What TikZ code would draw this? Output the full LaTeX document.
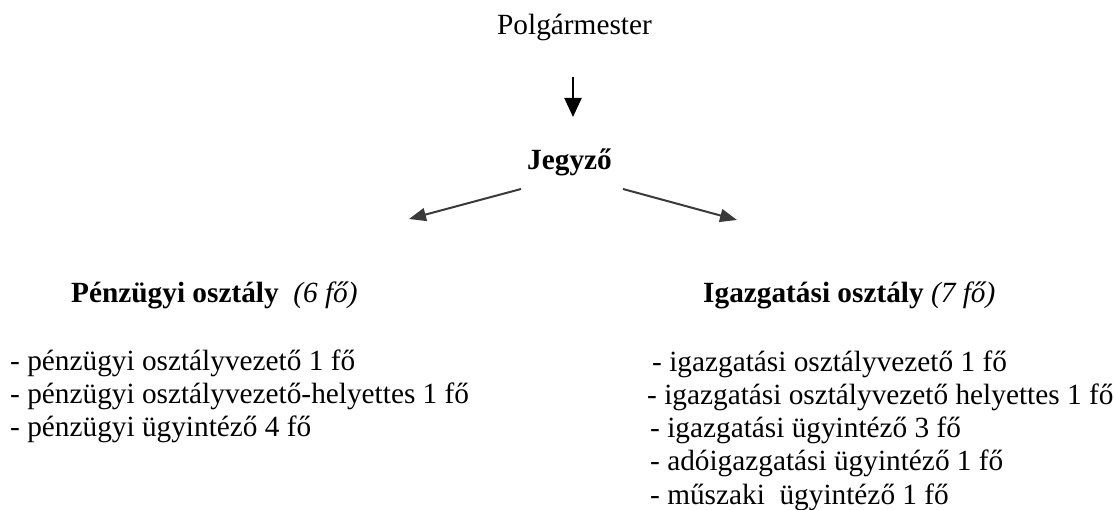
\documentclass[tikz,border=0pt]{standalone}
\usepackage{fontspec}
\setmainfont{Liberation Serif}
\usetikzlibrary{arrows.meta}
\definecolor{arrgray}{HTML}{3A3A3A}
\tikzset{
  txt/.style={inner sep=0pt, anchor=base west, font=\fontsize{29.3}{33}\selectfont},
  ctxt/.style={inner sep=0pt, anchor=base, font=\fontsize{29.3}{33}\selectfont},
  downarr/.style={line width=2pt, -{Triangle[length=19pt,width=17pt]}},
  sidearr/.style={line width=2pt, draw=arrgray, -{Triangle[length=17pt,width=13pt]}, fill=arrgray}
}
\begin{document}
\begin{tikzpicture}[x=1pt,y=-1pt]
\useasboundingbox (0,0) rectangle (1114,510);
% top
\node[ctxt] (pm) at (574.5,35) {Polgármester};
\node[ctxt] (j) at (569.5,170) {\textbf{Jegyző}};
\draw[downarr] ([xshift=-1.5pt,yshift=-42pt]pm.base) -- ([xshift=-1.5pt,yshift=-82pt]pm.base);
% headers
\node[txt] (pz) at (71,303) {\textbf{Pénzügyi osztály}\ \ \textit{(6 fő)}};
\node[txt] (ig) at (703,303) {\textbf{Igazgatási osztály} \textit{(7 fő)}};
% side arrows
\coordinate (jl) at (521,189);
\coordinate (jr) at (623,189);
\coordinate (pzt) at (409,219);
\coordinate (igt) at (737,220);
\draw[sidearr] (jl) -- (pzt);
\draw[sidearr] (jr) -- (igt);
% left list
\node[txt] (p1) at (10,371) {- pénzügyi osztályvezető 1 fő};
\node[txt] (p2) at (10,404) {- pénzügyi osztályvezető-helyettes 1 fő};
\node[txt] (p3) at (10,437) {- pénzügyi ügyintéző 4 fő};
% right list
\node[txt] (i1) at (652,372) {- igazgatási osztályvezető 1 fő};
\node[txt] (i2) at (647,405) {- igazgatási osztályvezető helyettes 1 fő};
\node[txt] (i3) at (650,438) {- igazgatási ügyintéző 3 fő};
\node[txt] (i4) at (650,471) {- adóigazgatási ügyintéző 1 fő};
\node[txt] (i5) at (650,504) {- műszaki\ \ ügyintéző 1 fő};
\end{tikzpicture}
\end{document}
